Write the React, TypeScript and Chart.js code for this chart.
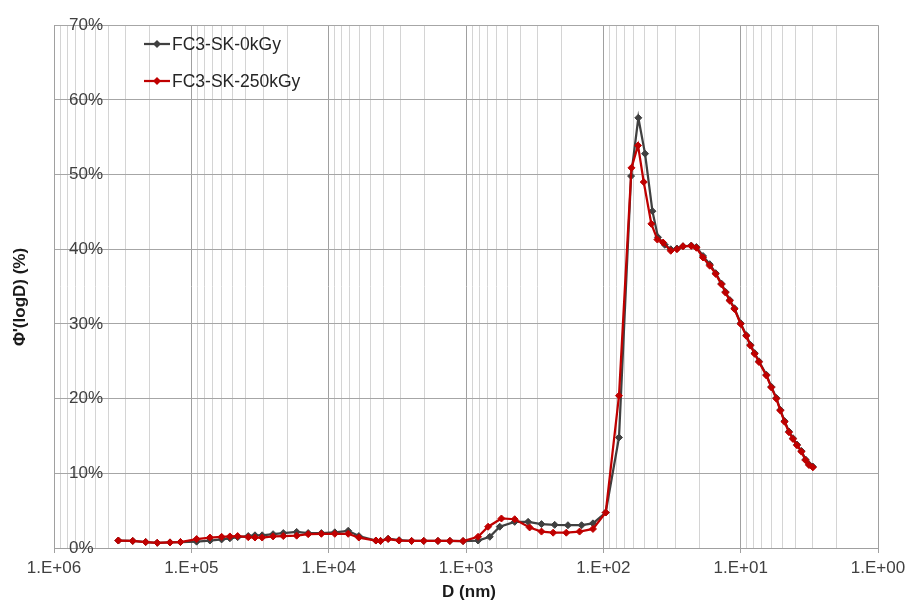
import React, { useEffect, useRef } from "react";
import { Chart, registerables } from "chart.js";

Chart.register(...registerables);

const seriesNames = ["FC3-SK-0kGy", "FC3-SK-250kGy"];
const seriesColors = ["#404040", "#c00000"];

// D (nm) and Φ'(logD) (%) for FC3-SK-0kGy
const diameter0 = [
  3.40e5, 2.67e5, 2.15e5, 1.77e5, 1.43e5, 1.20e5, 9.15e4, 7.32e4, 6.02e4, 5.24e4,
  4.60e4, 3.85e4, 3.44e4, 3.05e4, 2.54e4, 2.14e4, 1.71e4, 1.41e4, 1.13e4, 9.02e3,
  7.21e3, 6.03e3, 4.53e3, 4.19e3, 3.69e3, 3.07e3, 2.49e3, 2.03e3, 1.60e3, 1.31e3,
  1.05e3, 817, 671, 568, 442, 353, 282, 226, 181, 144,
  119, 96.1, 76.9, 62.8, 55.6, 49.7, 43.9, 40.0, 35.7, 32.3,
  29.1, 26.3, 22.9, 21.0, 18.8, 16.8, 15.2, 13.8, 12.9, 12.0,
  11.1, 10.0, 9.10, 8.50, 7.91, 7.36, 6.50, 5.98, 5.50, 5.14,
  4.79, 4.45, 4.16, 3.89, 3.61, 3.37, 3.18, 2.98,
];
const phi0 = [
  1.0, 0.95, 0.8, 0.7, 0.75, 0.8, 0.85, 1.0, 1.15, 1.3,
  1.45, 1.6, 1.7, 1.7, 1.85, 2.0, 2.15, 2.0, 2.0, 2.1,
  2.3, 1.6, 1.0, 0.95, 1.25, 1.05, 0.95, 0.95, 0.95, 0.95,
  0.93, 1.0, 1.5, 2.85, 3.5, 3.5, 3.2, 3.1, 3.05, 3.05,
  3.3, 4.75, 14.8, 49.8, 57.6, 52.8, 45.1, 41.6, 40.6, 40.0,
  40.1, 40.4, 40.5, 40.3, 39.1, 38.0, 36.8, 35.4, 34.3, 33.2,
  32.1, 30.1, 28.5, 27.2, 26.1, 25.0, 23.2, 21.6, 20.1, 18.5,
  17.0, 15.6, 14.7, 13.85, 13.0, 11.85, 11.2, 10.9,
];

// D (nm) and Φ'(logD) (%) for FC3-SK-250kGy
const diameter250 = [
  3.40e5, 2.67e5, 2.15e5, 1.77e5, 1.43e5, 1.20e5, 9.15e4, 7.32e4, 6.02e4, 5.24e4,
  4.60e4, 3.85e4, 3.44e4, 3.05e4, 2.54e4, 2.14e4, 1.71e4, 1.41e4, 1.13e4, 9.02e3,
  7.21e3, 6.03e3, 4.53e3, 4.19e3, 3.69e3, 3.07e3, 2.49e3, 2.03e3, 1.60e3, 1.31e3,
  1.05e3, 817, 690, 552, 442, 344, 282, 232, 186, 149,
  119, 96.1, 76.9, 62.4, 55.9, 50.8, 44.7, 40.4, 36.7, 32.3,
  29.1, 26.3, 22.9, 21.0, 18.8, 16.8, 15.2, 13.8, 12.9, 12.0,
  11.1, 10.0, 9.10, 8.50, 7.91, 7.36, 6.50, 5.98, 5.50, 5.14,
  4.79, 4.45, 4.16, 3.89, 3.61, 3.37, 3.18, 2.98,
];
const phi250 = [
  1.0, 0.95, 0.8, 0.7, 0.75, 0.8, 1.2, 1.4, 1.5, 1.55,
  1.6, 1.45, 1.4, 1.4, 1.55, 1.6, 1.65, 1.85, 1.9, 1.9,
  1.9, 1.4, 1.0, 0.95, 1.2, 1.0, 0.95, 0.95, 0.95, 0.95,
  0.93, 1.5, 2.85, 3.95, 3.85, 2.75, 2.2, 2.05, 2.05, 2.2,
  2.55, 4.75, 20.4, 50.9, 53.9, 49.0, 43.4, 41.3, 40.9, 39.8,
  40.0, 40.4, 40.45, 40.2, 38.9, 37.8, 36.7, 35.3, 34.2, 33.1,
  32.0, 30.0, 28.4, 27.1, 26.0, 24.9, 23.1, 21.5, 20.0, 18.4,
  16.9, 15.5, 14.6, 13.75, 12.9, 11.75, 11.1, 10.8,
];

const xDecades = [0, 1, 2, 3, 4, 5, 6];
const xMinorSteps = [2, 3, 4, 5, 6, 7, 8, 9];
const yMin = 0;
const yMax = 70;
const yStep = 10;
const xTitle = "D (nm)";
const yTitle = "Φ'(logD) (%)";

const FONT = "'Liberation Sans', Arial, sans-serif";

const isDecade = (v: number) => {
  const l = Math.log10(v);
  return Math.abs(l - Math.round(l)) < 1e-9;
};

const fmtDecade = (v: number) => {
  const e = Math.round(Math.log10(v));
  const s = String(Math.abs(e)).padStart(2, "0");
  return "1.E" + (e < 0 ? "-" : "+") + s;
};

const buildLogTicks = () => {
  const out: { value: number; major: boolean }[] = [];
  xDecades.forEach((e, i) => {
    const base = Math.pow(10, e);
    out.push({ value: base, major: true });
    if (i < xDecades.length - 1) {
      xMinorSteps.forEach((m) => out.push({ value: m * base, major: false }));
    }
  });
  return out;
};

const overlayPlugin = {
  id: "overlay",
  afterDraw(chart: any) {
    const ctx = chart.ctx;
    ctx.save();
    // legend
    const ds = chart.data.datasets;
    const rows = [44, 81];
    ds.forEach((d: any, i: number) => {
      const y = rows[i];
      ctx.strokeStyle = d.borderColor;
      ctx.lineWidth = 2.25;
      ctx.beginPath();
      ctx.moveTo(144, y);
      ctx.lineTo(170, y);
      ctx.stroke();
      ctx.fillStyle = d.borderColor;
      ctx.beginPath();
      ctx.moveTo(157, y - 4);
      ctx.lineTo(161, y);
      ctx.lineTo(157, y + 4);
      ctx.lineTo(153, y);
      ctx.closePath();
      ctx.fill();
      ctx.fillStyle = "#262626";
      ctx.font = `17.5px ${FONT}`;
      ctx.textAlign = "left";
      ctx.textBaseline = "middle";
      ctx.fillText(d.label, 172, y + 1);
    });
    // axis titles
    ctx.fillStyle = "#1a1a1a";
    ctx.font = `bold 17px ${FONT}`;
    ctx.textAlign = "center";
    ctx.textBaseline = "middle";
    ctx.fillText(xTitle, 469, 592);
    ctx.translate(20, 297);
    ctx.rotate(-Math.PI / 2);
    ctx.fillText(yTitle, 0, 0);
    ctx.restore();
  },
};

export default function App() {
  const ref = useRef<HTMLCanvasElement | null>(null);

  useEffect(() => {
    if (!ref.current) return;
    const toPts = (xs: number[], ys: number[]) => xs.map((x, i) => ({ x, y: ys[i] }));
    const chart = new Chart(ref.current, {
      type: "scatter",
      data: {
        datasets: [
          {
            label: seriesNames[0],
            data: toPts(diameter0, phi0),
            borderColor: seriesColors[0],
            backgroundColor: seriesColors[0],
            showLine: true,
            borderWidth: 2.25,
            pointStyle: "rectRot",
            pointRadius: 3.5,
            pointBorderWidth: 1,
            order: 1,
          },
          {
            label: seriesNames[1],
            data: toPts(diameter250, phi250),
            borderColor: seriesColors[1],
            backgroundColor: seriesColors[1],
            showLine: true,
            borderWidth: 2.25,
            pointStyle: "rectRot",
            pointRadius: 3.5,
            pointBorderWidth: 1,
            order: 0,
          },
        ],
      },
      options: {
        responsive: false,
        animation: false,
        devicePixelRatio: 1,
        layout: { padding: { top: 24, right: 33, left: 0, bottom: 0 } },
        plugins: {
          legend: { display: false },
          tooltip: { enabled: false },
          title: { display: false },
        },
        scales: {
          x: {
            type: "logarithmic",
            reverse: true,
            min: Math.pow(10, xDecades[0]),
            max: Math.pow(10, xDecades[xDecades.length - 1]),
            afterBuildTicks: (s: any) => {
              s.ticks = buildLogTicks();
            },
            afterFit: (s: any) => {
              s.height = 57;
            },
            ticks: {
              autoSkip: false,
              maxRotation: 0,
              minRotation: 0,
              padding: 5,
              color: "#404040",
              font: { size: 17, family: FONT },
              callback: (v: any) => (isDecade(Number(v)) ? fmtDecade(Number(v)) : ""),
            },
            grid: {
              color: (c: any) => (c.tick && isDecade(c.tick.value) ? "#a0a0a0" : "#d4d4d4"),
              tickColor: (c: any) => (c.tick && isDecade(c.tick.value) ? "#a0a0a0" : "rgba(0,0,0,0)"),
              tickLength: 5,
              lineWidth: 1,
            },
            border: { color: "#a0a0a0" },
          },
          y: {
            min: yMin,
            max: yMax,
            afterFit: (s: any) => {
              s.width = 54;
            },
            ticks: {
              stepSize: yStep,
              mirror: true,
              padding: 15,
              color: "#404040",
              font: { size: 17, family: FONT },
              callback: (v: any) => `${v}%`,
            },
            grid: { color: "#a6a6a6", drawTicks: false, lineWidth: 1 },
            border: { color: "#a0a0a0" },
          },
        },
      },
      plugins: [overlayPlugin],
    } as any);
    return () => chart.destroy();
  }, []);

  return (
    <div style={{ position: "absolute", left: 0, top: 0, width: 911, height: 605, background: "#fff" }}>
      <canvas ref={ref} width={911} height={605} style={{ display: "block" }} />
    </div>
  );
}
